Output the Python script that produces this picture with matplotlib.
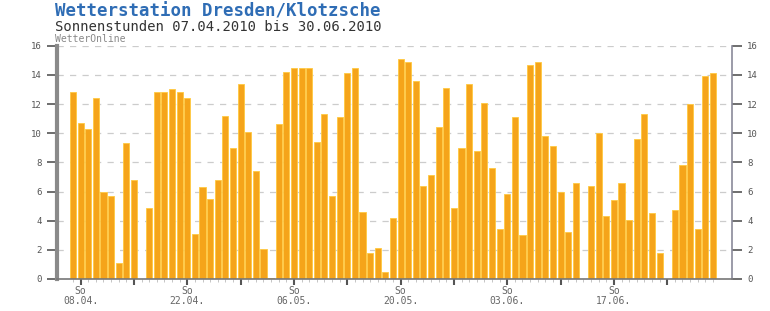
import numpy as np
import matplotlib.pyplot as plt

# Sonnenstunden pro Tag, 07.04.2010 - 30.06.2010
sun_hours = [
    12.85, 10.7, 10.3, 12.4, 6.0, 5.7, 1.1, 9.3, 6.8, 0.0,
    4.9, 12.8, 12.8, 13.0, 12.8, 12.4, 3.1, 6.3, 5.5, 6.8,
    11.2, 9.0, 13.4, 10.1, 7.4, 2.05, 0.1, 10.6, 14.2, 14.5,
    14.5, 14.5, 9.4, 11.3, 5.7, 11.1, 14.1, 14.45, 4.6, 1.8,
    2.1, 0.5, 4.2, 15.1, 14.9, 13.6, 6.4, 7.1, 10.45, 13.1,
    4.9, 9.0, 13.4, 8.8, 12.05, 7.6, 3.45, 5.85, 11.1, 3.0,
    14.7, 14.9, 9.8, 9.1, 6.0, 3.25, 6.6, 0.0, 6.35, 10.0,
    4.3, 5.4, 6.6, 4.05, 9.6, 11.3, 4.55, 1.8, 0.0, 4.7,
    7.8, 12.0, 3.45, 13.95, 14.1,
]
week_ticks = [1, 8, 15, 22, 29, 36, 43, 50, 57, 64, 71, 78]
week_labels = ["So\n08.04.", "", "So\n22.04.", "", "So\n06.05.", "",
               "So\n20.05.", "", "So\n03.06.", "", "So\n17.06.", ""]
y_ticks = [0, 2, 4, 6, 8, 10, 12, 14, 16]

plt.rcParams['font.family'] = 'DejaVu Sans Mono'

fig = plt.figure(figsize=(7.7, 3.11), dpi=100)
ax = fig.add_axes([57 / 770, 32 / 311, 675 / 770, 233.3 / 311])

x = np.arange(len(sun_hours))
ax.bar(x, sun_hours, width=0.8, color='#F5A41A', edgecolor='#FFC940',
       linewidth=0.6, zorder=2)

ax.set_xlim(-2.1, 86.5)
ax.set_ylim(0, 16)

# dashed grid
for yv in y_ticks[1:]:
    ax.axhline(yv, color='#cccccc', lw=0.9, ls=(0, (5, 5)), zorder=1)

ax.set_yticks(y_ticks)
ax.tick_params(axis='y', which='both', labelsize=6.5, colors='#555555',
               length=7, width=1.2, labelright=True, right=True, pad=4)
ax.set_xticks(week_ticks)
ax.set_xticklabels(week_labels, fontsize=7, color='#555555', linespacing=1.0)
ax.set_xticks(x, minor=True)
ax.tick_params(axis='x', which='major', length=4, width=1.5, colors='#555555', pad=1)
ax.tick_params(axis='x', which='minor', length=2, width=0.6, colors='#bbbbbb')
ax.tick_params(axis='x', labelcolor='#666666')

ax.spines['top'].set_visible(False)
ax.spines['left'].set_color('#8a8a8a')
ax.spines['left'].set_linewidth(3)
ax.spines['right'].set_color('#8a8a9a')
ax.spines['right'].set_linewidth(1.2)
ax.spines['bottom'].set_color('#777777')
ax.spines['bottom'].set_linewidth(1.2)

fig.text(55 / 770, 1 - 11 / 311, "Wetterstation Dresden/Klotzsche",
         fontsize=12.5, color='#2f6db5', va='center', ha='left', fontweight='semibold')
fig.text(55 / 770, 1 - 27 / 311, "Sonnenstunden 07.04.2010 bis 30.06.2010",
         fontsize=10, color='#333333', va='center', ha='left')
fig.text(55 / 770, 1 - 39 / 311, "WetterOnline",
         fontsize=7, color='#888888', va='center', ha='left')

fig.savefig("out.png", dpi=100)
